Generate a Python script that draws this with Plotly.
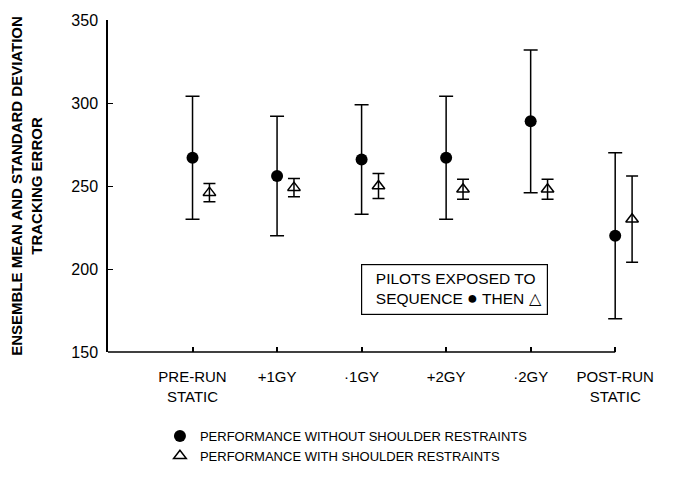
import plotly.graph_objects as go

categories = ["PRE-RUN<br>STATIC", "+1GY", "·1GY", "+2GY", "·2GY", "POST-RUN<br>STATIC"]
cat_pos = [1, 2, 3, 4, 5, 6]

without_mean = [267, 256, 266, 267, 289, 220]
without_sd = [37, 36, 33, 37, 43, 50]

with_mean = [246, 249, 250, 248, 248, 230]
with_sd = [5.5, 5.5, 7.5, 6, 6, 26]

offset = 0.2
font_family = "Liberation Sans, Arial, sans-serif"

fig = go.Figure()
fig.add_trace(go.Scatter(
    x=cat_pos, y=without_mean, mode="markers",
    name="PERFORMANCE WITHOUT SHOULDER RESTRAINTS",
    marker=dict(symbol="circle", size=12, color="black"),
    error_y=dict(type="data", array=without_sd, visible=True, color="black", thickness=1.5, width=7),
    cliponaxis=False,
))
fig.add_trace(go.Scatter(
    x=[p + offset for p in cat_pos], y=with_mean, mode="markers",
    name="PERFORMANCE WITH SHOULDER RESTRAINTS",
    marker=dict(symbol="triangle-up-open", size=11, color="black", line=dict(width=1.5)),
    error_y=dict(type="data", array=with_sd, visible=True, color="black", thickness=1.5, width=6),
    cliponaxis=False,
))

# x-axis baseline ends at the last category
fig.add_shape(type="line", xref="x", yref="paper", x0=0, x1=cat_pos[-1], y0=0, y1=0,
              line=dict(color="black", width=1.5))

fig.add_annotation(
    x=0.468, y=0.187, xref="paper", yref="paper", xanchor="left", yanchor="middle",
    text="&nbsp;&nbsp;PILOTS EXPOSED TO<br>&nbsp;&nbsp;SEQUENCE <span style='font-size:18px'>●</span> THEN △",
    showarrow=False, align="left",
    font=dict(family=font_family, size=15.5, color="black"),
    bordercolor="black", borderwidth=1.2, borderpad=5, bgcolor="white",
)

fig.update_layout(
    width=665, height=469,
    margin=dict(l=100, r=24, t=12, b=125),
    paper_bgcolor="white", plot_bgcolor="white",
    font=dict(family=font_family, size=13, color="black"),
    showlegend=True,
    legend=dict(x=0.096, xref="paper", y=0.1194, yref="container",
                xanchor="left", yanchor="top",
                font=dict(family=font_family, size=13, color="black"),
                itemwidth=30, tracegroupgap=0, bgcolor="rgba(0,0,0,0)"),
    xaxis=dict(range=[0, 6.4], tickvals=cat_pos, ticktext=categories,
               showline=False, ticks="inside", automargin=False,
               ticklen=5, tickcolor="black", tickwidth=1.5, showgrid=False, zeroline=False,
               tickfont=dict(size=15), ticklabelstandoff=14),
    yaxis=dict(range=[150, 350], tickvals=[150, 200, 250, 300, 350],
               showline=True, linecolor="black", linewidth=1.5, ticks="inside",
               ticklen=5, tickcolor="black", showgrid=False, zeroline=False,
               tickfont=dict(size=16), ticklabelstandoff=5, automargin=False,
               title=dict(text="<b>ENSEMBLE MEAN AND STANDARD DEVIATION<br>TRACKING ERROR</b>",
                          font=dict(size=15), standoff=40)),
)

fig.write_html("out.html")
